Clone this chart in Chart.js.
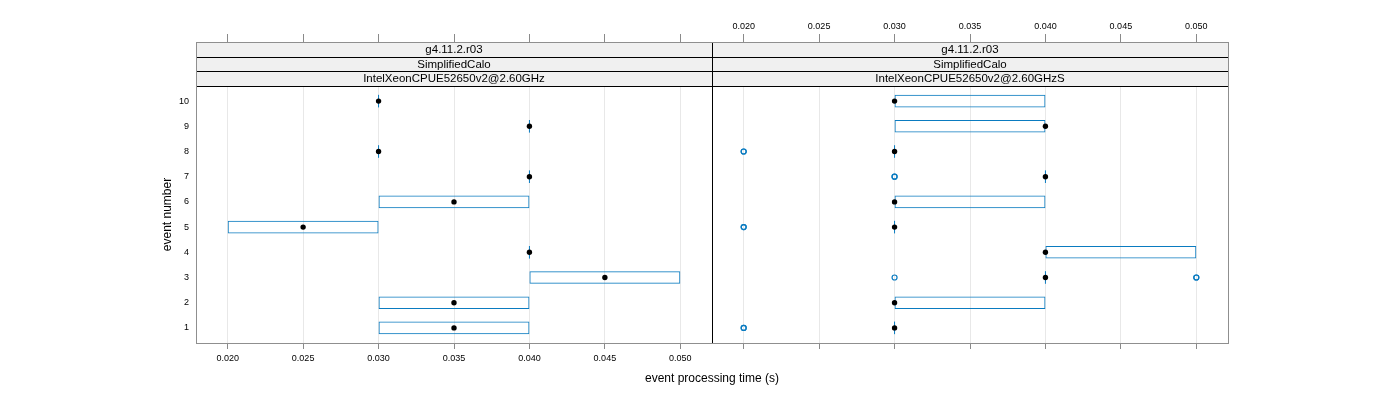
<!DOCTYPE html>
<html>
<head>
<meta charset="utf-8">
<script src="https://cdn.jsdelivr.net/npm/chart.js@4.4.0/dist/chart.umd.min.js"></script>
<style>
  html, body { margin: 0; padding: 0; background: #ffffff; }
  #chart { position: absolute; left: 0; top: 0; }
</style>
</head>
<body>
<canvas id="chart" width="1400" height="400"></canvas>
<script>
// ---------------- data ----------------
const events = [1, 2, 3, 4, 5, 6, 7, 8, 9, 10];
const xTicks = [0.020, 0.025, 0.030, 0.035, 0.040, 0.045, 0.050];
const stripVersion = 'g4.11.2.r03';
const stripTest = 'SimplifiedCalo';
const panelNames = ['IntelXeonCPUE52650v2@2.60GHz', 'IntelXeonCPUE52650v2@2.60GHzS'];

// panel 1 : IntelXeonCPUE52650v2@2.60GHz   (index = event 1..10)
const leftLower  = [0.030, 0.030, 0.040, 0.040, 0.020, 0.030, 0.040, 0.030, 0.040, 0.030];
const leftUpper  = [0.040, 0.040, 0.050, 0.040, 0.030, 0.040, 0.040, 0.030, 0.040, 0.030];
const leftMedian = [0.035, 0.035, 0.045, 0.040, 0.025, 0.035, 0.040, 0.030, 0.040, 0.030];
const leftOutEvent = [];
const leftOutTime  = [];

// panel 2 : IntelXeonCPUE52650v2@2.60GHzS
const rightLower  = [0.030, 0.030, 0.040, 0.040, 0.030, 0.030, 0.040, 0.030, 0.030, 0.030];
const rightUpper  = [0.030, 0.040, 0.040, 0.050, 0.030, 0.040, 0.040, 0.030, 0.040, 0.040];
const rightMedian = [0.030, 0.030, 0.040, 0.040, 0.030, 0.030, 0.040, 0.030, 0.040, 0.030];
const rightOutEvent = [1, 1, 3, 3, 3, 5, 5, 7, 7, 8, 8];
const rightOutTime  = [0.020, 0.020, 0.030, 0.050, 0.050, 0.020, 0.020, 0.030, 0.030, 0.020, 0.020];

// ---------------- styling / layout ----------------
const FONT = '"Liberation Sans", Arial, Helvetica, sans-serif';
const BLUE = '#0a7bc0';
const X_MIN = 0.0179, X_MAX = 0.0521;
const Y_MIN = 0.4, PANEL_TOP = 10.6;
const AREA_H = 301, STRIP_H = 44;               // chart area height, strips height (px)
const Y_MAX = PANEL_TOP + STRIP_H * (PANEL_TOP - Y_MIN) / (AREA_H - STRIP_H);

Chart.defaults.font.family = FONT;
Chart.defaults.color = '#000';

function boxData(lower, upper) {
  return events.map((e, i) => ({ y: e, x: [lower[i], upper[i]] })).filter((d, i) => lower[i] < upper[i]);
}
function flatBoxData(lower, upper) {
  return events.map((e, i) => ({ y: e, x: lower[i] })).filter((d, i) => lower[i] === upper[i]);
}
function medianData(med) {
  return events.map((e, i) => ({ y: e, x: med[i] }));
}
function outlierData(ev, t) {
  return ev.map((e, i) => ({ y: e, x: t[i] }));
}

function panelDatasets(xid, lower, upper, med, outEv, outT) {
  return [
    { type: 'bar', xAxisID: xid, yAxisID: 'y', indexAxis: 'y', data: boxData(lower, upper),
      grouped: false, barPercentage: 0.5, categoryPercentage: 1,
      borderColor: BLUE, borderWidth: 1, borderSkipped: false, backgroundColor: 'rgba(0,0,0,0)', order: 5 },
    { type: 'scatter', xAxisID: xid, yAxisID: 'y', data: flatBoxData(lower, upper),
      pointStyle: 'line', rotation: 90, pointRadius: 6.3, borderColor: BLUE, borderWidth: 1, order: 4 },
    { type: 'scatter', xAxisID: xid, yAxisID: 'y', data: medianData(med),
      pointStyle: 'circle', pointRadius: 2.7, backgroundColor: '#000', borderWidth: 0, order: 2 },
    { type: 'scatter', xAxisID: xid, yAxisID: 'y', data: outlierData(outEv, outT),
      pointStyle: 'circle', pointRadius: 2.5, backgroundColor: 'rgba(0,0,0,0)', borderColor: BLUE, borderWidth: 1.2, order: 3 }
  ];
}

function xScale(position, weight, showLabels) {
  const top = position === 'top';
  return {
    type: 'linear', position: position, stack: position, stackWeight: 1, weight: weight,
    min: X_MIN, max: X_MAX, offset: false,
    afterBuildTicks: s => { s.ticks = xTicks.map(v => ({ value: v })); },
    afterFit: s => { s.height = top ? 42 : 22; },
    grid: { display: true, drawOnChartArea: !top, drawTicks: true, offset: false,
            color: '#e8e8e8', tickColor: '#8a8a8a', tickLength: top ? 8 : 6, lineWidth: 1, tickWidth: 1 },
    border: { display: false },
    ticks: { display: showLabels, padding: top ? 2 : 4, color: '#000', font: { size: 9 },
             maxRotation: 0, autoSkip: false, callback: v => Number(v).toFixed(3) }
  };
}

const latticePlugin = {
  id: 'lattice',
  beforeDatasetsDraw(chart) {
    const { ctx, chartArea, scales } = chart;
    const sTop = chartArea.top;
    const sBottom = scales.y.getPixelForValue(PANEL_TOP);
    const h = (sBottom - sTop) / 3;
    ctx.save();
    ['x1', 'x2'].forEach((id, p) => {
      const sc = scales[id];
      const labels = [stripVersion, stripTest, panelNames[p]];
      ctx.fillStyle = '#f0f0f0';
      ctx.fillRect(sc.left, sTop, sc.right - sc.left, sBottom - sTop);
      ctx.fillStyle = '#000';
      ctx.font = '11.5px ' + FONT;
      ctx.textAlign = 'center';
      ctx.textBaseline = 'middle';
      labels.forEach((t, k) => ctx.fillText(t, (sc.left + sc.right) / 2, sTop + h * (k + 0.5) + 0.5));
      ctx.strokeStyle = '#000';
      ctx.lineWidth = 1;
      for (let k = 1; k <= 3; k++) {
        const yy = Math.round(sTop + h * k) + 0.5;
        ctx.beginPath(); ctx.moveTo(sc.left, yy); ctx.lineTo(sc.right, yy); ctx.stroke();
      }
    });
    ctx.restore();
  },
  afterDraw(chart) {
    const { ctx, chartArea, scales } = chart;
    ctx.save();
    // separator between panels
    const sx = Math.round(scales.x1.right) + 0.5;
    ctx.strokeStyle = '#000'; ctx.lineWidth = 1;
    ctx.beginPath(); ctx.moveTo(sx, chartArea.top); ctx.lineTo(sx, chartArea.bottom); ctx.stroke();
    // outer frame
    ctx.strokeStyle = '#8f8f8f'; ctx.lineWidth = 1;
    ctx.strokeRect(Math.round(chartArea.left) + 0.5, Math.round(chartArea.top) + 0.5,
                   Math.round(chartArea.right - chartArea.left), Math.round(chartArea.bottom - chartArea.top));
    // y axis title
    const pTop = scales.y.getPixelForValue(PANEL_TOP);
    ctx.translate(168, (pTop + chartArea.bottom) / 2);
    ctx.rotate(-Math.PI / 2);
    ctx.fillStyle = '#000';
    ctx.font = '12px ' + FONT;
    ctx.textAlign = 'center';
    ctx.textBaseline = 'middle';
    ctx.fillText('event number', 0, 0);
    ctx.restore();
  }
};

new Chart(document.getElementById('chart'), {
  type: 'bar',
  data: {
    datasets: [
      ...panelDatasets('x1', leftLower, leftUpper, leftMedian, leftOutEvent, leftOutTime),
      ...panelDatasets('x2', rightLower, rightUpper, rightMedian, rightOutEvent, rightOutTime)
    ]
  },
  options: {
    responsive: false,
    animation: false,
    events: [],
    indexAxis: 'y',
    layout: { padding: { left: 0, right: 172, top: 0, bottom: 14.6 } },
    scales: {
      x1: xScale('bottom', 0, true),
      x2: xScale('bottom', 0, false),
      x2t: xScale('top', 1, true),
      x1t: xScale('top', 2, false),
      y: {
        type: 'linear', position: 'left', min: Y_MIN, max: Y_MAX, offset: false,
        afterBuildTicks: s => { s.ticks = events.map(v => ({ value: v })); },
        afterFit: s => { s.width = 196; },
        grid: { display: false, drawTicks: false },
        border: { display: false },
        ticks: { padding: 7, color: '#000', font: { size: 9 }, autoSkip: false, callback: v => String(v) }
      }
    },
    plugins: {
      legend: { display: false },
      tooltip: { enabled: false },
      title: {
        display: true, text: 'event processing time (s)', position: 'bottom', fullSize: false,
        align: 'center', color: '#000', font: { size: 12, weight: 'normal', family: FONT },
        padding: { top: 6, bottom: 0 }
      }
    }
  },
  plugins: [latticePlugin]
});
</script>
</body>
</html>
